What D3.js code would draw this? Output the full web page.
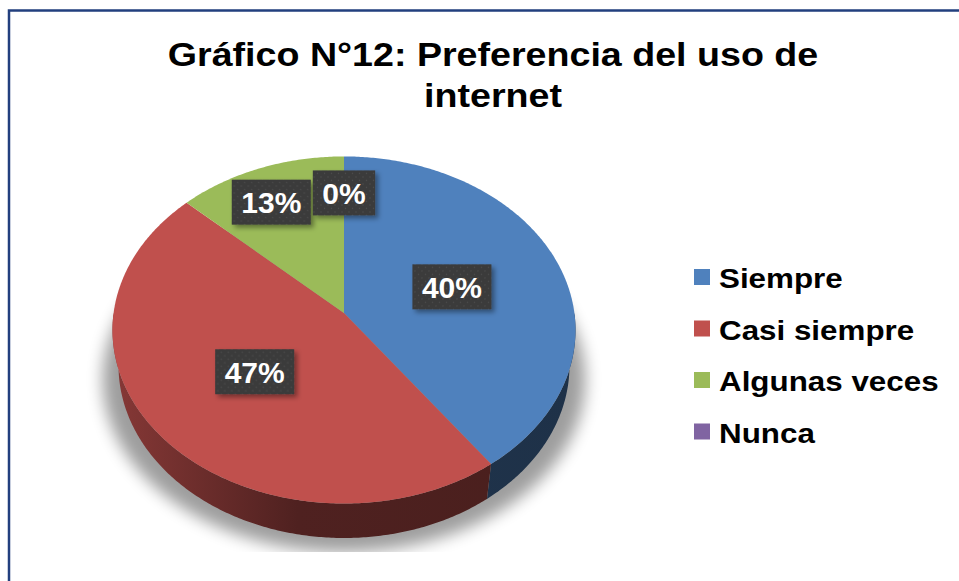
<!DOCTYPE html>
<html>
<head>
<meta charset="utf-8">
<script src="https://cdn.jsdelivr.net/npm/d3@7"></script>
<style>
body { margin: 0; background: #fff; }
svg { display: block; font-family: "Liberation Sans", Arial, sans-serif; }
</style>
</head>
<body>
<div id="chart"></div>
<script>
// chart data
var titleLines = ["Gráfico N°12: Preferencia del uso de", "internet"];
var categories = ["Siempre", "Casi siempre", "Algunas veces", "Nunca"];
var percents = [40, 47, 13, 0];
var colors = ["#4f81bd", "#c0504d", "#9bbb59", "#8064a2"];

var width = 959, height = 581;

var svg = d3.select("#chart")
  .append("svg")
    .attr("width", width)
    .attr("height", height);

var defs = svg.append("defs");

// frame
svg.append("rect")
  .attr("x", 9).attr("y", 10.5)
  .attr("width", 1000).attr("height", 1000)
  .attr("fill", "#fff")
  .attr("stroke", "#223f7e")
  .attr("stroke-width", 2.5);

// title, a bit wider than the font
svg.selectAll(".title")
  .data(titleLines)
  .enter()
  .append("text")
    .attr("class", "title")
    .attr("transform", function(d, i) { return "translate(493," + (66 + i * 40.5) + ") scale(1.14,1)"; })
    .attr("text-anchor", "middle")
    .attr("font-size", 33)
    .attr("font-weight", "bold")
    .attr("fill", "#000")
    .text(function(d) { return d; });

// 3d pie projection: disk seen from above with perspective
var cx = 344, cy = 313, scale = 230.4, dist = 6.81, depth = 0.2415;
var sinT = 0.746, cosT = 0.666;

function proj(theta, r, y) {
  var X = r * Math.sin(theta), Z = r * Math.cos(theta);
  var yc = y * cosT + Z * sinT;
  var zc = dist + Z * cosT - y * sinT;
  return [cx + scale * X * dist / zc, cy - scale * yc * dist / zc];
}

function arcPoints(a0, a1, y) {
  var pts = [];
  var n = Math.max(2, Math.ceil((a1 - a0) / 0.01));
  for (var i = 0; i <= n; i++) pts.push(proj(a0 + (a1 - a0) * i / n, 1, y));
  return pts;
}

var line = d3.line();
var color = d3.scaleOrdinal().domain(categories).range(colors);

var pie = d3.pie()
  .sort(null)
  .value(function(d) { return d; })
  .startAngle(0)
  .endAngle(2 * Math.PI);

var slices = pie(percents);

// soft shadow under the pie, cut at the bottom of the plot area
defs.append("filter").attr("id", "blur")
  .attr("x", "-20%").attr("y", "-20%").attr("width", "140%").attr("height", "140%")
  .append("feGaussianBlur").attr("stdDeviation", 8);

defs.append("clipPath").attr("id", "plotClip")
  .append("rect").attr("x", 0).attr("y", 0).attr("width", width).attr("height", 552);

var shadowPts = arcPoints(0, 2 * Math.PI, -depth).map(function(p) {
  return [cx + (p[0] - cx) * 1.07, p[1] + 14];
});
svg.append("g")
  .attr("clip-path", "url(#plotClip)")
  .append("path")
    .attr("d", line(shadowPts) + "Z")
    .attr("fill", "#000")
    .attr("opacity", 0.38)
    .attr("filter", "url(#blur)");

// side walls (front half only)
var leftX = proj(1.5 * Math.PI, 1, 0)[0], rightX = proj(0.5 * Math.PI, 1, 0)[0];

slices.forEach(function(s, i) {
  var a0 = Math.max(s.startAngle, Math.PI / 2), a1 = Math.min(s.endAngle, 1.5 * Math.PI);
  if (a1 <= a0) return;
  var c = color(categories[i]);
  var g = defs.append("linearGradient")
    .attr("id", "side" + i)
    .attr("gradientUnits", "userSpaceOnUse")
    .attr("x1", leftX).attr("x2", rightX).attr("y1", 0).attr("y2", 0);
  g.append("stop").attr("offset", 0).attr("stop-color", d3.color(c).darker(1.0));
  g.append("stop").attr("offset", 0.4).attr("stop-color", d3.color(c).darker(2.5));
  g.append("stop").attr("offset", 1).attr("stop-color", d3.color(c).darker(2.7));
  var pts = arcPoints(a0, a1, 0).concat(arcPoints(a0, a1, -depth).reverse());
  svg.append("path")
    .attr("d", line(pts) + "Z")
    .attr("fill", "url(#side" + i + ")");
});

// top faces
svg.selectAll(".slice")
  .data(slices.filter(function(s) { return s.endAngle > s.startAngle; }))
  .enter()
  .append("path")
    .attr("class", "slice")
    .attr("d", function(s) {
      return line([proj(0, 0, 0)].concat(arcPoints(s.startAngle, s.endAngle, 0))) + "Z";
    })
    .attr("fill", function(s) { return color(categories[s.index]); });

// data labels: dark boxes with a dot texture
var dots = defs.append("pattern")
  .attr("id", "dots")
  .attr("patternUnits", "userSpaceOnUse")
  .attr("width", 7).attr("height", 7);
dots.append("rect").attr("width", 7).attr("height", 7).attr("fill", "#3a3a3a");
dots.append("circle").attr("cx", 1.5).attr("cy", 1.5).attr("r", 0.8).attr("fill", "#4d4d4d");
dots.append("circle").attr("cx", 5).attr("cy", 5).attr("r", 0.8).attr("fill", "#4d4d4d");

defs.append("filter").attr("id", "boxShadow")
  .attr("x", "-20%").attr("y", "-20%").attr("width", "150%").attr("height", "150%")
  .append("feDropShadow")
    .attr("dx", 3).attr("dy", 3).attr("stdDeviation", 2.5)
    .attr("flood-color", "#000").attr("flood-opacity", 0.4);

var boxH = 45, pad = 9.5;
var labels = slices.map(function(s) {
  var mid = (s.startAngle + s.endAngle) / 2;
  var r = s.data >= 20 ? 0.5 : 0.75;
  var p = proj(mid, r, 0);
  return { text: s.data + "%", x: p[0], y: p[1] };
});

var labelLayer = svg.append("g");
labels.forEach(function(l) {
  var t = labelLayer.append("text")
    .attr("font-size", 30).attr("font-weight", "bold")
    .text(l.text);
  l.w = t.node().getComputedTextLength() + 2 * pad;
  t.remove();
});

// nudge overlapping labels sideways, the last slice keeps its place
for (var i = labels.length - 1; i >= 0; i--) {
  for (var j = labels.length - 1; j > i; j--) {
    var a = labels[i], b = labels[j];
    var ox = (a.w + b.w) / 2 - Math.abs(a.x - b.x);
    var oy = boxH - Math.abs(a.y - b.y);
    if (ox > 0 && oy > 0) a.x += (a.x < b.x ? -1 : 1) * (ox + 2);
  }
}

var lab = labelLayer.selectAll(".label")
  .data(labels)
  .enter()
  .append("g")
    .attr("class", "label")
    .attr("transform", function(d) { return "translate(" + d.x + "," + d.y + ")"; });

lab.append("rect")
  .attr("x", function(d) { return -d.w / 2; })
  .attr("y", -boxH / 2)
  .attr("width", function(d) { return d.w; })
  .attr("height", boxH)
  .attr("fill", "url(#dots)")
  .attr("filter", "url(#boxShadow)");

lab.append("text")
  .attr("text-anchor", "middle")
  .attr("y", 11)
  .attr("font-size", 30)
  .attr("font-weight", "bold")
  .attr("fill", "#fff")
  .text(function(d) { return d.text; });

// legend
var legend = svg.selectAll(".legend")
  .data(categories)
  .enter()
  .append("g")
    .attr("class", "legend")
    .attr("transform", function(d, i) { return "translate(694," + (288 + i * 51.5) + ")"; });

legend.append("rect")
  .attr("x", 0).attr("y", -19)
  .attr("width", 16).attr("height", 16)
  .attr("fill", function(d) { return color(d); });

legend.append("text")
  .attr("transform", "translate(25,0) scale(1.12,1)")
  .attr("font-size", 28)
  .attr("font-weight", "bold")
  .attr("fill", "#000")
  .text(function(d) { return d; });
</script>
</body>
</html>
